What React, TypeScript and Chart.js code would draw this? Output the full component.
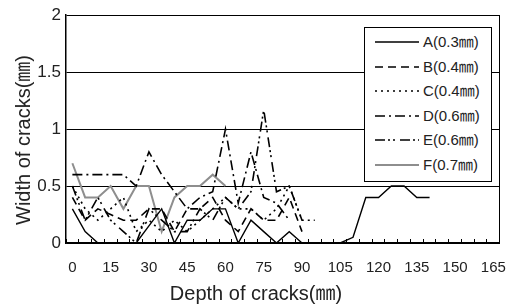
import React, { useEffect, useRef } from 'react';
import { Chart, registerables } from 'chart.js';

Chart.register(...registerables);

// Depth categories (mm), one every 5 mm
const depthLabels = [
  '0', '5', '10', '15', '20', '25', '30', '35', '40', '45', '50', '55',
  '60', '65', '70', '75', '80', '85', '90', '95', '100', '105', '110', '115',
  '120', '125', '130', '135', '140', '145', '150', '155', '160', '165',
];
// Labels that are printed on the x axis
const shownDepthLabels = ['0', '15', '30', '45', '60', '75', '90', '105', '120', '135', '150', '165'];

const seriesNames = ['A(0.3㎜)', 'B(0.4㎜)', 'C(0.4㎜)', 'D(0.6㎜)', 'E(0.6㎜)', 'F(0.7㎜)'];

// Crack widths (mm) per depth category
const widthA = [0.3, 0.1, 0, 0, 0, 0, 0.15, 0.3, 0, 0.2, 0.2, 0.3, 0.3, 0, 0.2, 0.1, 0, 0.1, 0, 0, 0, 0, 0.05, 0.4, 0.4, 0.5, 0.5, 0.4, 0.4];
const widthB = [0.4, 0.2, 0.3, 0.25, 0.2, 0.2, 0.3, 0.3, 0.1, 0.3, 0.3, 0.4, 0.2, 0.1, 0.3, 0.2, 0.2, 0.4, 0.1];
const widthC = [0.5, 0.3, 0.2, 0.3, 0.4, 0.1, 0.2, 0.1, 0.2, 0.1, 0.2, 0.3, 0.4, 0.3, 0.3, 0.2, 0.3, 0.5, 0.2, 0.2];
const widthD = [0.6, 0.6, 0.6, 0.6, 0.6, 0.5, 0.8, 0.6, 0.45, 0.3, 0.4, 0.45, 1.0, 0.35, 0.8, 0.4, 0.35, 0.2];
const widthE = [0.5, 0.2, 0.4, 0.2, 0.1, 0, 0.3, 0.2, 0.1, 0.1, 0.3, 0.2, 0.4, 0.3, 0.45, 1.17, 0.45, 0.5, 0.2];
const widthF = [0.7, 0.4, 0.4, 0.5, 0.3, 0.5, 0.5, 0.1, 0.4, 0.5, 0.5, 0.6, 0.5];

const seriesValues = [widthA, widthB, widthC, widthD, widthE, widthF];

const lineStyles = [
  { color: '#000000', width: 1.4, dash: [] as number[] },
  { color: '#000000', width: 1.6, dash: [8, 5] },
  { color: '#000000', width: 1.6, dash: [2, 4] },
  { color: '#000000', width: 1.6, dash: [10, 4, 2, 4] },
  { color: '#000000', width: 1.6, dash: [10, 3, 2, 3, 2, 5] },
  { color: '#8e8e8e', width: 2, dash: [] as number[] },
];

const FONT = '"Liberation Sans", Arial, "Noto Sans CJK KR", sans-serif';
const TEXT = '#222222';

export default function App() {
  const ref = useRef<HTMLCanvasElement>(null);

  useEffect(() => {
    document.body.style.margin = '0';
    const canvas = ref.current;
    if (!canvas) return;
    const chart = new Chart(canvas, {
      type: 'line',
      data: {
        labels: depthLabels,
        datasets: seriesValues.map((vals, i) => ({
          label: seriesNames[i],
          data: vals,
          borderColor: lineStyles[i].color,
          borderWidth: lineStyles[i].width,
          borderDash: lineStyles[i].dash,
          pointRadius: 0,
          fill: false,
          tension: 0,
          spanGaps: false,
        })),
      },
      options: {
        animation: false,
        responsive: false,
        devicePixelRatio: 1,
        layout: { padding: { top: 15, right: 9, left: 0, bottom: 0 } },
        plugins: { legend: { display: false }, tooltip: { enabled: false } },
        scales: {
          x: {
            type: 'category',
            offset: true,
            grid: {
              offset: true,
              drawOnChartArea: false,
              drawTicks: true,
              tickLength: -4,
              tickColor: '#000',
              tickWidth: 1,
            },
            border: { display: true, color: '#000', width: 1.5 },
            ticks: {
              autoSkip: false,
              maxRotation: 0,
              minRotation: 0,
              padding: 20,
              color: TEXT,
              font: { family: FONT, size: 15 },
              callback: (_v: any, idx: number) =>
                shownDepthLabels.includes(depthLabels[idx]) ? depthLabels[idx] : '',
            },
            afterFit: (s: any) => { s.height = 64; },
          },
          y: {
            min: 0,
            max: 2,
            grid: { color: '#000', lineWidth: 1, drawTicks: false },
            border: { display: true, color: '#000', width: 1.5 },
            ticks: {
              stepSize: 0.5,
              padding: 5,
              color: TEXT,
              font: { family: FONT, size: 17 },
              callback: (v: any) => String(Number(v)),
            },
            afterFit: (s: any) => { s.width = 66; },
          },
          yRight: {
            position: 'right',
            min: 0,
            max: 2,
            grid: { drawOnChartArea: false, drawTicks: false },
            border: { display: true, color: '#000', width: 1 },
            ticks: { display: false },
            afterFit: (s: any) => { s.width = 0; },
          },
        },
      },
    } as any);
    return () => chart.destroy();
  }, []);

  return (
    <div style={{ position: 'relative', width: 526, height: 307, fontFamily: FONT, color: TEXT, background: '#fff' }}>
      <canvas ref={ref} width={526} height={307} style={{ position: 'absolute', left: 0, top: 0 }} />
      <div
        style={{
          position: 'absolute', left: 23, top: 140, fontSize: 20, whiteSpace: 'nowrap',
          transform: 'translate(-50%, -50%) rotate(-90deg)', lineHeight: 1,
        }}
      >
        Width of cracks(㎜)
      </div>
      <div
        style={{
          position: 'absolute', left: 256, top: 293, fontSize: 20, whiteSpace: 'nowrap',
          transform: 'translate(-50%, -50%)', lineHeight: 1,
        }}
      >
        Depth of cracks(㎜)
      </div>
      <div
        style={{
          position: 'absolute', left: 364, top: 27, width: 126, height: 153,
          border: '1px solid #000', background: '#fff',
        }}
      >
        {seriesNames.map((name, i) => (
          <div key={name} style={{ position: 'absolute', left: 0, top: 14 + i * 24.5 - 10, height: 20, width: 126 }}>
            <svg width={45} height={20} style={{ position: 'absolute', left: 10, top: 0 }}>
              <line
                x1={0} y1={10} x2={44} y2={10}
                stroke={lineStyles[i].color}
                strokeWidth={lineStyles[i].width}
                strokeDasharray={lineStyles[i].dash.length ? lineStyles[i].dash.join(',') : undefined}
              />
            </svg>
            <span style={{ position: 'absolute', left: 58, top: 1, fontSize: 15, lineHeight: '18px', whiteSpace: 'nowrap' }}>
              {name}
            </span>
          </div>
        ))}
      </div>
    </div>
  );
}
